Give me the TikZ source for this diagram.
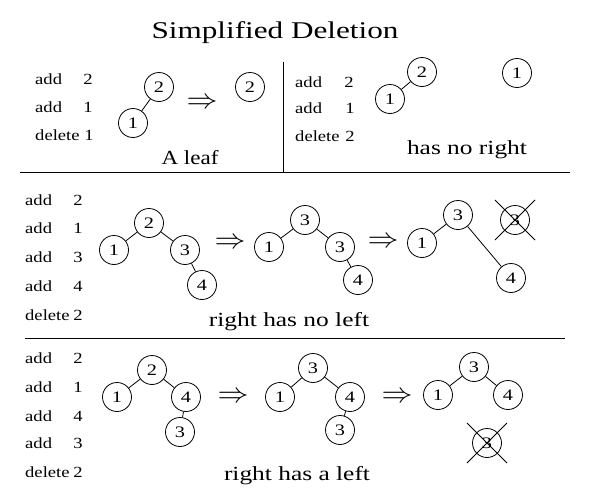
\documentclass[tikz,border=0pt]{standalone}
\usepackage{fontspec}
\setmainfont{Liberation Serif}
\usepackage{graphicx}
\newcommand{\wx}[2][1.27]{\scalebox{#1}[1]{#2}}
\newcommand{\impsym}{\scalebox{3.1}[2.8]{$\Rightarrow$}}
\tikzset{
  nd/.style={circle, draw, line width=0.8pt, minimum size=29pt, inner sep=0pt, font=\fontsize{16}{16}\selectfont},
  cmd/.style={anchor=west, inner sep=0pt, font=\fontsize{15.5}{15.5}\selectfont},
  num/.style={anchor=center, inner sep=0pt, font=\fontsize{15.5}{15.5}\selectfont},
  capt/.style={anchor=base, inner sep=0pt, font=\fontsize{20}{20}\selectfont},
  ttl/.style={anchor=base, inner sep=0pt, font=\fontsize{24}{24}\selectfont},
  impl/.style={inner sep=0pt},
  edge/.style={line width=0.8pt},
  sep/.style={line width=1pt},
  xline/.style={line width=0.8pt}
}
\begin{document}
\begin{tikzpicture}[x=1pt, y=-1pt]
\useasboundingbox (0,0) rectangle (590,490);
\node[ttl] (title) at (275,38) {\wx[1.3]{Simplified Deletion}};
% separators
\coordinate (h1l) at (20,172); \coordinate (h1r) at (570,172);
\coordinate (v1t) at (283,62); \coordinate (v1b) at (283,172);
\coordinate (h2l) at (25,338); \coordinate (h2r) at (565,338);
\draw[sep] (h1l) -- (h1r);
\draw[sep] (v1t) -- (v1b);
\draw[sep] (h2l) -- (h2r);
% ---------- section 1
\node[cmd] (c11) at (35,79) {\wx[1.2]{add}};
\node[num] (n11) at (88,79) {\wx[1.2]{2}};
\node[cmd] (c12) at (35,107) {\wx[1.2]{add}};
\node[num] (n12) at (88,107) {\wx[1.2]{1}};
\node[cmd] (c13) at (35,135) {\wx[1.2]{delete}};
\node[num] (n13) at (89,135) {\wx[1.2]{1}};
\node[nd] (a2) at (159,87) {\wx{2}};
\node[nd] (a1) at (133,123) {\wx{1}};
\draw[edge] (a2) -- (a1);
\node[impl] (ar1) at (202,103) {\impsym};
\node[nd] (b2) at (250,87) {\wx{2}};
\node[capt] (cap1) at (190,164) {\wx[1.15]{A leaf}};
% ---------- section 2
\node[cmd] (c21) at (295,82) {\wx[1.2]{add}};
\node[num] (n21) at (349,82) {\wx[1.2]{2}};
\node[cmd] (c22) at (295,108) {\wx[1.2]{add}};
\node[num] (n22) at (350,108) {\wx[1.2]{1}};
\node[cmd] (c23) at (295,136) {\wx[1.2]{delete}};
\node[num] (n23) at (350,136) {\wx[1.2]{2}};
\node[nd] (d2) at (422,72) {\wx{2}};
\node[nd] (d1) at (390,99) {\wx{1}};
\draw[edge] (d2) -- (d1);
\node[nd] (e1) at (517,73) {\wx{1}};
\node[capt] (cap2) at (467,154) {\wx{has no right}};
% ---------- section 3
\node[cmd] (c31) at (25,200) {\wx[1.2]{add}};
\node[num] (n31) at (78,200) {\wx[1.2]{2}};
\node[cmd] (c32) at (25,228) {\wx[1.2]{add}};
\node[num] (n32) at (78,228) {\wx[1.2]{1}};
\node[cmd] (c33) at (25,257) {\wx[1.2]{add}};
\node[num] (n33) at (78,257) {\wx[1.2]{3}};
\node[cmd] (c34) at (25,286) {\wx[1.2]{add}};
\node[num] (n34) at (78,286) {\wx[1.2]{4}};
\node[cmd] (c35) at (25,315) {\wx[1.2]{delete}};
\node[num] (n35) at (78,315) {\wx[1.2]{2}};
\node[nd] (f2) at (149,223) {\wx{2}};
\node[nd] (f1) at (114,250) {\wx{1}};
\node[nd] (f3) at (185,250) {\wx{3}};
\node[nd] (f4) at (202,285) {\wx{4}};
\draw[edge] (f2) -- (f1);
\draw[edge] (f2) -- (f3);
\draw[edge] (f3) -- (f4);
\node[impl] (ar3a) at (230,243) {\impsym};
\node[nd] (g3) at (305,220) {\wx{3}};
\node[nd] (g1) at (269,247) {\wx{1}};
\node[nd] (g3r) at (340,247) {\wx{3}};
\node[nd] (g4) at (358,280) {\wx{4}};
\draw[edge] (g3) -- (g1);
\draw[edge] (g3) -- (g3r);
\draw[edge] (g3r) -- (g4);
\node[impl] (ar3b) at (383,242) {\impsym};
\node[nd] (h3) at (458,215) {\wx{3}};
\node[nd] (h1) at (422,243) {\wx{1}};
\node[nd] (h4) at (511,278) {\wx{4}};
\draw[edge] (h3) -- (h1);
\draw[edge] (h3) -- (h4);
\node[nd] (hx) at (515,220) {\wx{3}};
\draw[xline] ([shift={(-20,-20)}]hx.center) -- ([shift={(20,20)}]hx.center);
\draw[xline] ([shift={(20,-20)}]hx.center) -- ([shift={(-20,20)}]hx.center);
\node[capt] (cap3) at (289,326) {\wx{right has no left}};
% ---------- section 4
\node[cmd] (c41) at (25,358) {\wx[1.2]{add}};
\node[num] (n41) at (78,358) {\wx[1.2]{2}};
\node[cmd] (c42) at (25,387) {\wx[1.2]{add}};
\node[num] (n42) at (78,387) {\wx[1.2]{1}};
\node[cmd] (c43) at (25,416) {\wx[1.2]{add}};
\node[num] (n43) at (78,416) {\wx[1.2]{4}};
\node[cmd] (c44) at (25,443) {\wx[1.2]{add}};
\node[num] (n44) at (78,443) {\wx[1.2]{3}};
\node[cmd] (c45) at (25,472) {\wx[1.2]{delete}};
\node[num] (n45) at (78,472) {\wx[1.2]{2}};
\node[nd] (k2) at (152,370) {\wx{2}};
\node[nd] (k1) at (117,397) {\wx{1}};
\node[nd] (k4) at (186,397) {\wx{4}};
\node[nd] (k3) at (180,432) {\wx{3}};
\draw[edge] (k2) -- (k1);
\draw[edge] (k2) -- (k4);
\draw[edge] (k4) -- (k3);
\node[impl] (ar4a) at (233,397) {\impsym};
\node[nd] (m3) at (313,368) {\wx{3}};
\node[nd] (m1) at (280,397) {\wx{1}};
\node[nd] (m4) at (350,397) {\wx{4}};
\node[nd] (m3b) at (340,430) {\wx{3}};
\draw[edge] (m3) -- (m1);
\draw[edge] (m3) -- (m4);
\draw[edge] (m4) -- (m3b);
\node[impl] (ar4b) at (397,397) {\impsym};
\node[nd] (p3) at (474,367) {\wx{3}};
\node[nd] (p1) at (438,395) {\wx{1}};
\node[nd] (p4) at (508,395) {\wx{4}};
\draw[edge] (p3) -- (p1);
\draw[edge] (p3) -- (p4);
\node[nd] (px) at (487,443) {\wx{3}};
\draw[xline] ([shift={(-20,-20)}]px.center) -- ([shift={(20,20)}]px.center);
\draw[xline] ([shift={(20,-20)}]px.center) -- ([shift={(-20,20)}]px.center);
\node[capt] (cap4) at (297,480) {\wx{right has a left}};
\end{tikzpicture}
\end{document}
